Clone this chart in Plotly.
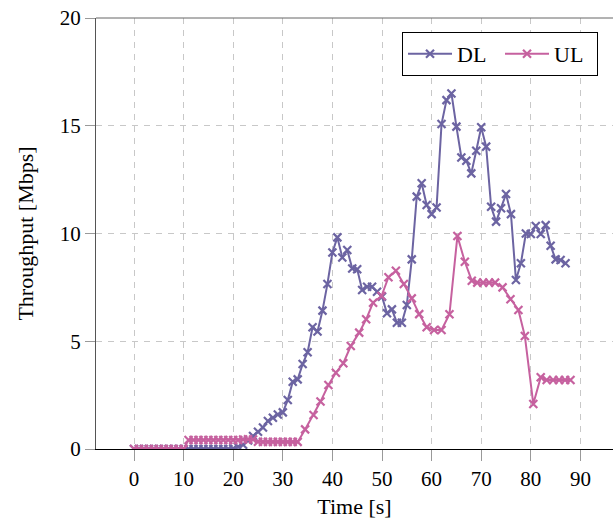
import plotly.graph_objects as go

# DL throughput, sampled every second
dl_time = list(range(0, 88))
dl_vals = [0, 0, 0, 0, 0, 0, 0, 0, 0, 0,
           0, 0, 0, 0, 0, 0, 0, 0, 0, 0,
           0.02, 0.1, 0.2, 0.4, 0.6, 0.8, 1.0, 1.3, 1.45, 1.6,
           1.7, 2.27, 3.12, 3.23, 3.94, 4.49, 5.65, 5.45, 6.42, 7.66,
           9.12, 9.82, 8.89, 9.23, 8.38, 8.34, 7.38, 7.53, 7.53, 7.3,
           7.07, 6.3, 6.48, 5.86, 5.86, 6.68, 8.8, 11.71, 12.33, 11.32,
           10.9, 11.21, 15.08, 16.19, 16.5, 14.96, 13.53, 13.38, 12.79, 13.84,
           14.93, 14.03, 11.24, 10.55, 11.17, 11.83, 10.9, 7.84, 8.62, 10.0,
           9.98, 10.35, 9.98, 10.39, 9.43, 8.8, 8.77, 8.62]

# UL throughput
ul_time = [0, 1, 2, 3, 4, 5, 6, 7, 8, 9, 10,
           11, 12, 13, 14, 15, 16, 17, 18, 19, 20, 21, 22, 23, 24,
           25, 26, 27, 28, 29, 30, 31, 32, 33,
           34.5, 36.2, 37.6, 39.2, 40.7, 42.2, 43.7, 45.4, 46.8, 48.2,
           49.9, 51.3, 52.8, 54.4, 56.0, 57.5, 59.0, 60.5, 62.0, 63.6,
           65.2, 66.7, 68.1, 69.2, 70.4, 71.6, 72.8, 74.3, 75.9, 77.5,
           78.8, 80.5, 82.0, 83.2, 84.5, 85.7, 86.9, 88.0]
ul_vals = [0, 0, 0, 0, 0, 0, 0, 0, 0, 0, 0,
           0.42, 0.42, 0.42, 0.42, 0.42, 0.42, 0.42, 0.42, 0.42, 0.42, 0.42, 0.44, 0.45, 0.44,
           0.34, 0.33, 0.33, 0.33, 0.33, 0.33, 0.33, 0.33, 0.33,
           0.91, 1.58, 2.2, 2.97, 3.54, 3.98, 4.78, 5.4, 6.02, 6.79,
           7.1, 7.97, 8.27, 7.66, 6.99, 6.26, 5.65, 5.52, 5.52, 6.25,
           9.88, 8.69, 7.81, 7.72, 7.72, 7.72, 7.72, 7.5, 6.95, 6.45,
           5.24, 2.09, 3.33, 3.2, 3.2, 3.2, 3.2, 3.2]

x_ticks = [0, 10, 20, 30, 40, 50, 60, 70, 80, 90]
y_ticks = [0, 5, 10, 15, 20]

DL_COLOR = "#6c64a2"
UL_COLOR = "#c6619f"
FONT = "Liberation Serif"

fig = go.Figure()
fig.add_trace(go.Scatter(
    x=dl_time, y=dl_vals, name="DL", mode="lines+markers",
    line=dict(color=DL_COLOR, width=2),
    marker=dict(symbol="x-thin", size=8, line=dict(color=DL_COLOR, width=2.2)),
))
fig.add_trace(go.Scatter(
    x=ul_time, y=ul_vals, name="UL", mode="lines+markers",
    line=dict(color=UL_COLOR, width=2),
    marker=dict(symbol="x-thin", size=8, line=dict(color=UL_COLOR, width=2.2)),
))

fig.update_layout(
    width=613, height=519,
    margin=dict(l=96, r=0, t=18, b=70, autoexpand=False),
    plot_bgcolor="white", paper_bgcolor="white",
    font=dict(family=FONT, size=20, color="black"),
    showlegend=True,
    legend=dict(
        orientation="h", x=0.971, xanchor="right", y=0.9675, yanchor="top",
        bordercolor="black", borderwidth=1, bgcolor="white",
        font=dict(family=FONT, size=22), itemwidth=44,
        entrywidth=38, entrywidthmode="pixels", tracegroupgap=0,
    ),
)
fig.update_xaxes(
    range=[-7.66, 96.57], tickvals=x_ticks, ticktext=[str(v) for v in x_ticks],
    showgrid=True, gridcolor="#c8c8c8", gridwidth=1, griddash="6px,6px",
    showline=True, linecolor="black", linewidth=1,
    ticks="outside", ticklen=11, tickcolor="#999999", tickwidth=1,
    tickfont=dict(family=FONT, size=21), automargin=False,
    title=dict(text="Time [s]", font=dict(family=FONT, size=22), standoff=14),
    zeroline=False,
)
fig.update_yaxes(
    range=[0, 20], tickvals=y_ticks, ticktext=[str(v) for v in y_ticks],
    showgrid=True, gridcolor="#c8c8c8", gridwidth=1, griddash="6px,6px",
    showline=True, linecolor="#555555", linewidth=1,
    ticks="outside", ticklen=10, tickcolor="#999999", tickwidth=1,
    tickfont=dict(family=FONT, size=21), automargin=False,
    title=dict(text="Throughput [Mbps]", font=dict(family=FONT, size=22), standoff=20),
    zeroline=False,
)
fig.add_shape(type="line", xref="paper", yref="paper", x0=0, x1=1, y0=1, y1=1,
              line=dict(color="#666666", width=1))

fig.write_html("out.html")
